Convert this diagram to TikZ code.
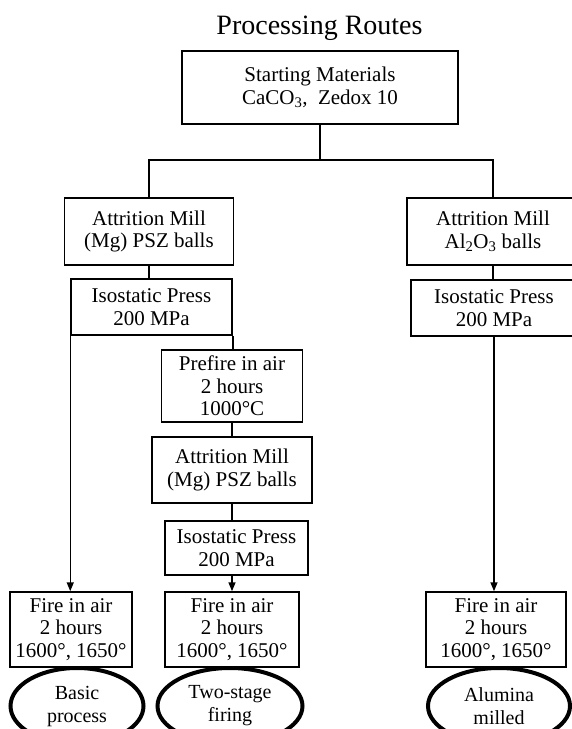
\documentclass[tikz,border=0pt]{standalone}
\usepackage{fontspec}
\setmainfont{Liberation Serif}
\usepackage{tikz}
\usetikzlibrary{shapes.geometric, arrows.meta}
\usetikzlibrary{positioning, calc}

\begin{document}
\begin{tikzpicture}[x=1pt, y=-1pt,
    stepbox/.style={draw, line width=1.5pt, rectangle, inner sep=0pt, align=center,
        font=\fontsize{21}{22.5}\selectfont},
    routeoval/.style={draw, line width=4pt, ellipse, inner sep=0pt, align=center,
        minimum height=76pt, font=\fontsize{20}{23}\selectfont},
    link/.style={line width=1.5pt},
    flow/.style={line width=1.5pt, -{Triangle[length=9pt, width=7pt]}}]

    \useasboundingbox (0,0) rectangle (572,729);

    \node[font=\fontsize{28}{30}\selectfont] (title) at (319.5,28) {Processing Routes};

    \node[stepbox, minimum width=276pt, minimum height=73pt] (start) at (320,87.5)
        {Starting Materials\\CaCO\textsubscript{3},\ \ Zedox 10};
    \coordinate (split) at (320,160);

    % left routes
    \node[stepbox, minimum width=169pt, minimum height=67pt] (millA) at (149,231.5)
        {Attrition Mill\\(Mg) PSZ balls};
    \node[stepbox, minimum width=161pt, minimum height=56pt] (pressA) at (151.5,307)
        {Isostatic Press\\200 MPa};
    \node[stepbox, minimum width=141pt, minimum height=72pt] (prefire) at (232,386)
        {Prefire in air\\2 hours\\1000°C};
    \node[stepbox, minimum width=160pt, minimum height=66pt] (millB) at (232,470)
        {Attrition Mill\\(Mg) PSZ balls};
    \node[stepbox, minimum width=143pt, minimum height=54pt] (pressB) at (236.5,548)
        {Isostatic Press\\200 MPa};

    % right route
    \node[stepbox, minimum width=172pt, minimum height=67pt] (millC) at (493,231.5)
        {Attrition Mill\\Al\textsubscript{2}O\textsubscript{3} balls};
    \node[stepbox, minimum width=166pt, minimum height=56pt] (pressC) at (494,308)
        {Isostatic Press\\200 MPa};

    % firing
    \node[stepbox, minimum width=122pt, minimum height=75pt] (fireA) at (71,629.5)
        {Fire in air\\2 hours\\1600°, 1650°};
    \node[stepbox, minimum width=134pt, minimum height=75pt] (fireB) at (232,629.5)
        {Fire in air\\2 hours\\1600°, 1650°};
    \node[stepbox, minimum width=140pt, minimum height=75pt] (fireC) at (496,629.5)
        {Fire in air\\2 hours\\1600°, 1650°};

    \node[routeoval, minimum width=133pt] (basic) at (77,706) {Basic\\process};
    \node[routeoval, minimum width=145pt] (twostage) at (230,706) {Two-stage\\firing};
    \node[routeoval, minimum width=142pt] (alumina) at (499,706) {Alumina\\milled};

    \draw[link] (start) -- (split);
    \draw[link] (millA.north) |- (split) -| (millC.north);
    \draw[link] (millA.south) -- (millA.south |- pressA.north);
    \draw[link] (pressA.south east) -- (pressA.south east |- prefire.north);
    \draw[link] (prefire.south) -- (prefire.south |- millB.north);
    \draw[link] (millB.south) -- (millB.south |- pressB.north);
    \draw[link] (millC.south) -- (millC.south |- pressC.north);

    \draw[flow] (pressA.south west) -- (pressA.south west |- fireA.north);
    \draw[flow] (fireB.north |- pressB.south) -- (fireB.north);
    \draw[flow] (pressC.south) -- (pressC.south |- fireC.north);

\end{tikzpicture}
\end{document}
